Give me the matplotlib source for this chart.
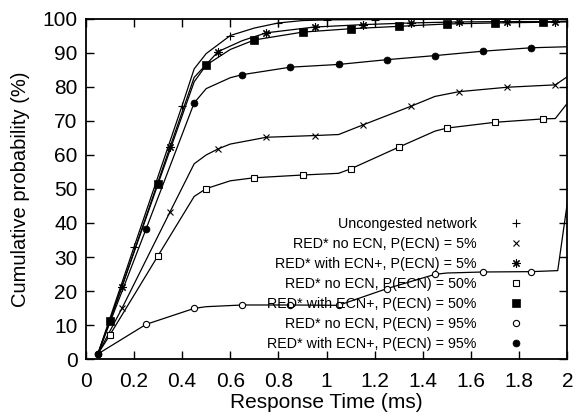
import matplotlib
matplotlib.use("Agg")
import matplotlib.pyplot as plt
from matplotlib.lines import Line2D
from matplotlib.ticker import FormatStrFormatter, MultipleLocator

plt.rcParams['font.family'] = ['Liberation Sans', 'DejaVu Sans']

labels = ["Uncongested network",
          "RED* no ECN, P(ECN) = 5%",
          "RED* with ECN+, P(ECN) = 5%",
          "RED* no ECN, P(ECN) = 50%",
          "RED* with ECN+, P(ECN) = 50%",
          "RED* no ECN, P(ECN) = 95%",
          "RED* with ECN+, P(ECN) = 95%"]

# curve vertices (response time ms, cumulative %)
unc_x = [0.05, 0.2, 0.4, 0.45, 0.5, 0.6, 0.7, 0.8, 0.9, 1.0, 1.2, 1.4, 1.6, 1.8, 2.0]
unc_y = [1.5, 32.9, 74.5, 85.3, 89.8, 95.1, 97.3, 98.8, 99.5, 99.7, 99.8, 99.9, 99.9, 99.9, 100]
unc_m = [1, 2, 5, 7, 9, 10, 11, 12, 13, 14]

no5_x = [0.05, 0.15, 0.35, 0.45, 0.5, 0.55, 0.6, 0.75, 0.95, 1.05, 1.15, 1.35, 1.45, 1.55, 1.75, 1.95, 2.0]
no5_y = [1.5, 14.9, 43.3, 57.4, 60.0, 61.8, 63.2, 65.2, 65.7, 66.0, 68.8, 74.3, 77.2, 78.6, 79.9, 80.6, 83.0]
no5_m = [1, 2, 5, 7, 8, 10, 11, 13, 14, 15]

ecn5_x = [0.05, 0.15, 0.35, 0.45, 0.55, 0.65, 0.75, 0.95, 1.15, 1.35, 1.55, 1.75, 1.95, 2.0]
ecn5_y = [1.5, 21.3, 62.4, 82.8, 90.4, 93.6, 95.9, 97.6, 98.3, 98.8, 99.1, 99.2, 99.2, 99.3]
ecn5_m = [1, 2, 4, 6, 7, 8, 9, 10, 11, 12]

no50_x = [0.05, 0.1, 0.3, 0.45, 0.5, 0.6, 0.7, 0.9, 1.05, 1.1, 1.3, 1.45, 1.5, 1.7, 1.9, 1.95, 2.0]
no50_y = [1.5, 7.1, 30.4, 47.8, 50.1, 52.4, 53.3, 54.1, 54.6, 55.9, 62.3, 67.0, 67.9, 69.6, 70.6, 70.7, 75.2]
no50_m = [1, 2, 4, 6, 7, 9, 10, 12, 13, 14]

ecn50_x = [0.05, 0.1, 0.3, 0.45, 0.5, 0.6, 0.7, 0.9, 1.1, 1.3, 1.5, 1.7, 1.9, 2.0]
ecn50_y = [1.5, 11.2, 51.5, 81.5, 86.4, 91.0, 93.8, 96.1, 97.1, 97.8, 98.5, 98.8, 99.0, 99.1]
ecn50_m = [1, 2, 4, 6, 7, 8, 9, 10, 11, 12]

no95_x = [0.05, 0.25, 0.45, 0.5, 0.65, 0.85, 1.05, 1.25, 1.45, 1.5, 1.65, 1.85, 1.96, 2.0]
no95_y = [1.5, 10.2, 14.9, 15.4, 15.9, 15.9, 15.8, 20.7, 24.9, 25.3, 25.6, 25.7, 26.0, 46.0]
no95_m = [0, 1, 2, 4, 5, 6, 7, 8, 10, 11]

ecn95_x = [0.05, 0.25, 0.45, 0.5, 0.6, 0.65, 0.85, 1.05, 1.25, 1.45, 1.65, 1.85, 2.0]
ecn95_y = [1.5, 38.2, 75.3, 79.5, 82.7, 83.6, 85.8, 86.6, 88.0, 89.2, 90.5, 91.5, 91.8]
ecn95_m = [0, 1, 2, 5, 6, 7, 8, 9, 10, 11]

series = [
    (unc_x, unc_y, unc_m, dict(marker='+', ms=6, mew=0.8)),
    (no5_x, no5_y, no5_m, dict(marker='x', ms=5, mew=0.8)),
    (ecn5_x, ecn5_y, ecn5_m, dict(marker=(8, 2, 0), ms=6, mew=0.8)),
    (no50_x, no50_y, no50_m, dict(marker='s', ms=4.5, mew=0.8, mfc='white')),
    (ecn50_x, ecn50_y, ecn50_m, dict(marker='s', ms=5.5, mew=0.5)),
    (no95_x, no95_y, no95_m, dict(marker='o', ms=4.5, mew=0.8, mfc='white')),
    (ecn95_x, ecn95_y, ecn95_m, dict(marker='o', ms=5, mew=0.5)),
]

fig = plt.figure(figsize=(5.76, 4.19), dpi=100)
ax = fig.add_axes([0.149, 0.143, 0.836, 0.812])

handles = []
for (x, y, m, st) in series:
    ax.plot(x, y, color='black', lw=0.9, markevery=m, clip_on=True, **st)
    handles.append(Line2D([], [], color='black', linestyle='none', **st))

ax.set_xlim(0, 2)
ax.set_ylim(0, 100)
ax.xaxis.set_major_locator(MultipleLocator(0.2))
ax.yaxis.set_major_locator(MultipleLocator(10))
ax.xaxis.set_major_formatter(FormatStrFormatter('%g'))
ax.tick_params(direction='in', length=6, width=1, top=True, right=True,
               labelsize=15)
ax.tick_params(axis='x', pad=9)
ax.tick_params(axis='y', pad=6)
for s in ax.spines.values():
    s.set_linewidth(1.3)

ax.set_xlabel("Response Time (ms)", fontsize=15, labelpad=2)
ax.set_ylabel("Cumulative probability (%)", fontsize=14.5, labelpad=9)

ax.legend(handles, labels, loc='lower right', markerfirst=False, frameon=False,
          fontsize=10.3, handlelength=2, handletextpad=1.8, labelspacing=0.42,
          borderaxespad=0, borderpad=0, bbox_to_anchor=(0.924, 0.025))

fig.savefig("out.png", dpi=100)
